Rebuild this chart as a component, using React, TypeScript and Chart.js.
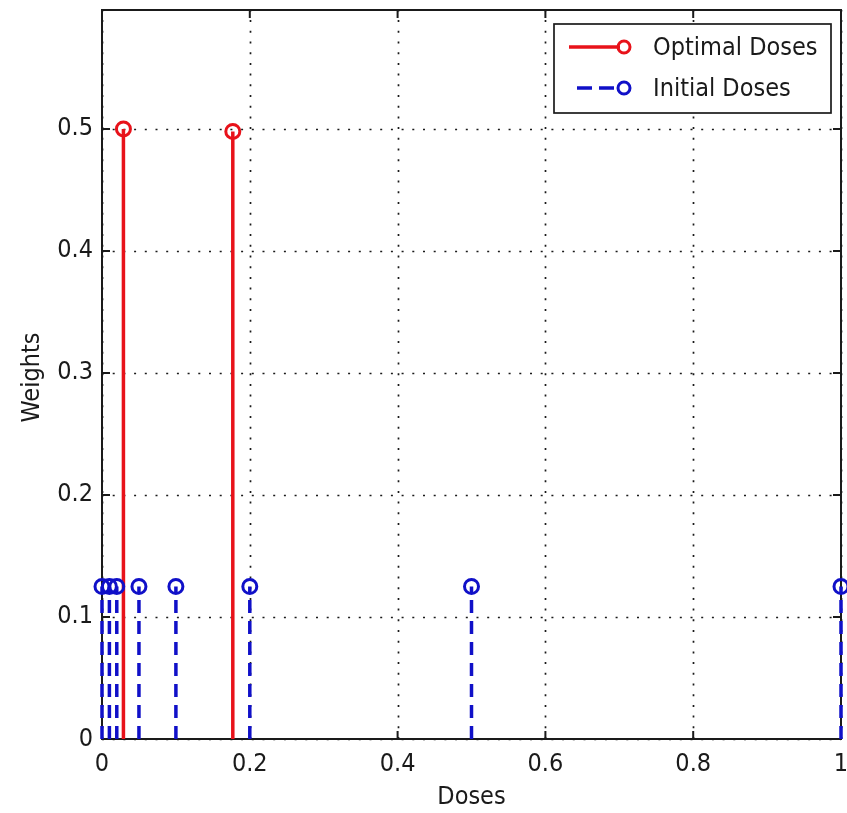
import React, { useEffect, useRef } from "react";
import { Chart, registerables } from "chart.js";

Chart.register(...registerables);

// Stem data: dose levels and their design weights
const optimalDoses = [0.029, 0.177];
const optimalWeights = [0.5, 0.498];
const initialDoses = [0, 0.01, 0.02, 0.05, 0.1, 0.2, 0.5, 1];
const initialWeights = [0.125, 0.125, 0.125, 0.125, 0.125, 0.125, 0.125, 0.125];

const xTicks = [0, 0.2, 0.4, 0.6, 0.8, 1];
const yTicks = [0, 0.1, 0.2, 0.3, 0.4, 0.5];

const seriesNames = ["Optimal Doses", "Initial Doses"];
const xTitle = "Doses";
const yTitle = "Weights";

const RED = "#e8121a";
const BLUE = "#1010c8";
const INK = "#1a1a1a";
const FAMILY = '"DejaVu Sans Condensed", "Liberation Sans", sans-serif';
const FONT_SIZE = 25;

// the canvas is a little wider than the visible frame so the last x label
// does not squeeze the plot area; the overflow is cut off by the wrapper
const VIEW_W = 847;
const VIEW_H = 813;
const CANVAS_W = 870;
const PLOT_RIGHT = 841;

// stems as line segments from 0 up to each weight, separated by gaps
function stemPoints(xs: number[], ys: number[]) {
  const pts: { x: number; y: number | null }[] = [];
  xs.forEach((x, i) => {
    pts.push({ x, y: 0 }, { x, y: ys[i] }, { x, y: null });
  });
  return pts;
}

function markerPoints(xs: number[], ys: number[]) {
  return xs.map((x, i) => ({ x, y: ys[i] }));
}

const framePlugin = {
  id: "matlabFrame",
  beforeDatasetsDraw(chart: any) {
    const { ctx, chartArea: a, scales } = chart;
    const xs = scales.x;
    const ys = scales.y;
    ctx.save();
    // dotted grid
    ctx.strokeStyle = INK;
    ctx.lineWidth = 1.7;
    ctx.setLineDash([2, 8.7]);
    xTicks.forEach((v) => {
      const px = Math.round(xs.getPixelForValue(v)) + 0.5;
      ctx.beginPath();
      ctx.moveTo(px, a.bottom);
      ctx.lineTo(px, a.top);
      ctx.stroke();
    });
    yTicks.forEach((v) => {
      const py = Math.round(ys.getPixelForValue(v)) + 0.5;
      ctx.beginPath();
      ctx.moveTo(a.left, py);
      ctx.lineTo(a.right, py);
      ctx.stroke();
    });
    ctx.setLineDash([]);
    // inward tick marks
    ctx.lineWidth = 2;
    const tl = 8;
    xTicks.forEach((v) => {
      const px = xs.getPixelForValue(v);
      ctx.beginPath();
      ctx.moveTo(px, a.bottom);
      ctx.lineTo(px, a.bottom - tl);
      ctx.moveTo(px, a.top);
      ctx.lineTo(px, a.top + tl);
      ctx.stroke();
    });
    yTicks.forEach((v) => {
      const py = ys.getPixelForValue(v);
      ctx.beginPath();
      ctx.moveTo(a.left, py);
      ctx.lineTo(a.left + tl, py);
      ctx.moveTo(a.right, py);
      ctx.lineTo(a.right - tl, py);
      ctx.stroke();
    });
    // axes box
    ctx.strokeRect(a.left, a.top, a.right - a.left, a.bottom - a.top);
    ctx.restore();
  },
  afterDraw(chart: any) {
    const { ctx, chartArea: a } = chart;
    ctx.save();
    ctx.fillStyle = INK;
    ctx.font = `${FONT_SIZE}px ${FAMILY}`;
    ctx.textAlign = "center";
    ctx.textBaseline = "middle";
    // axis titles
    ctx.fillText(xTitle, (a.left + a.right) / 2, 797);
    ctx.save();
    ctx.translate(32, (a.top + a.bottom) / 2 + 3);
    ctx.rotate(-Math.PI / 2);
    ctx.fillText(yTitle, 0, 0);
    ctx.restore();

    // legend
    const bx = 554, by = 24, bw = 277, bh = 89;
    ctx.fillStyle = "#ffffff";
    ctx.fillRect(bx, by, bw, bh);
    ctx.strokeStyle = INK;
    ctx.lineWidth = 1.7;
    ctx.strokeRect(bx, by, bw, bh);
    const rows = [
      { y: 47, color: RED, dash: [] as number[], x0: 569 },
      { y: 88, color: BLUE, dash: [15, 7], x0: 577 },
    ];
    rows.forEach((r, i) => {
      ctx.strokeStyle = r.color;
      ctx.lineWidth = 3.5;
      ctx.setLineDash(r.dash);
      ctx.beginPath();
      ctx.moveTo(r.x0, r.y);
      ctx.lineTo(620, r.y);
      ctx.stroke();
      ctx.setLineDash([]);
      ctx.lineWidth = 3;
      ctx.beginPath();
      ctx.arc(624, r.y, 6, 0, Math.PI * 2);
      ctx.stroke();
      ctx.fillStyle = INK;
      ctx.textAlign = "left";
      ctx.fillText(seriesNames[i], 653, r.y + 1);
    });
    ctx.restore();
  },
};

export default function App() {
  const canvasRef = useRef<HTMLCanvasElement | null>(null);

  useEffect(() => {
    if (!canvasRef.current) return;
    const chart = new Chart(canvasRef.current, {
      type: "line",
      data: {
        datasets: [
          {
            type: "scatter",
            label: seriesNames[1],
            data: markerPoints(initialDoses, initialWeights),
            pointStyle: "circle",
            pointRadius: 7,
            pointBorderWidth: 3,
            pointBorderColor: BLUE,
            pointBackgroundColor: "transparent",
            showLine: false,
            clip: false as any,
          },
          {
            type: "line",
            label: seriesNames[1] + " stems",
            data: stemPoints(initialDoses, initialWeights),
            borderColor: BLUE,
            borderWidth: 3.5,
            borderDash: [13, 8],
            borderCapStyle: "butt",
            pointRadius: 0,
            spanGaps: false,
            clip: false as any,
          },
          {
            type: "scatter",
            label: seriesNames[0],
            data: markerPoints(optimalDoses, optimalWeights),
            pointStyle: "circle",
            pointRadius: 7,
            pointBorderWidth: 3,
            pointBorderColor: RED,
            pointBackgroundColor: "transparent",
            showLine: false,
            clip: false as any,
          },
          {
            type: "line",
            label: seriesNames[0] + " stems",
            data: stemPoints(optimalDoses, optimalWeights),
            borderColor: RED,
            borderWidth: 3.5,
            pointRadius: 0,
            spanGaps: false,
            clip: false as any,
          },
        ],
      },
      options: {
        responsive: false,
        animation: false,
        devicePixelRatio: 1,
        layout: { padding: { left: 0, top: 9, right: CANVAS_W - PLOT_RIGHT, bottom: 0 } },
        plugins: {
          legend: { display: false },
          tooltip: { enabled: false },
          title: { display: false },
        },
        scales: {
          x: {
            type: "linear",
            min: 0,
            max: 1,
            grid: { display: false, drawTicks: false },
            border: { display: false },
            afterBuildTicks: (s: any) => {
              s.ticks = xTicks.map((v) => ({ value: v }));
            },
            afterFit: (s: any) => {
              s.height = 74;
              s.paddingLeft = 0;
              s.paddingRight = 0;
            },
            ticks: {
              autoSkip: false,
              maxRotation: 0,
              padding: 10,
              color: INK,
              font: { family: FAMILY, size: FONT_SIZE },
              callback: (v: any) => String(Number(Number(v).toFixed(1))),
            },
          },
          y: {
            type: "linear",
            min: 0,
            max: 0.5975,
            grid: { display: false, drawTicks: false },
            border: { display: false },
            afterBuildTicks: (s: any) => {
              s.ticks = yTicks.map((v) => ({ value: v }));
            },
            afterFit: (s: any) => {
              s.width = 102;
              s.paddingTop = 0;
              s.paddingBottom = 0;
            },
            ticks: {
              autoSkip: false,
              padding: 9,
              color: INK,
              font: { family: FAMILY, size: FONT_SIZE },
              callback: (v: any) => String(Number(Number(v).toFixed(1))),
            },
          },
        },
      },
      plugins: [framePlugin],
    });
    return () => chart.destroy();
  }, []);

  return (
    <div
      style={{
        position: "absolute",
        left: 0,
        top: 0,
        width: VIEW_W,
        height: VIEW_H,
        overflow: "hidden",
        background: "#fff",
      }}
    >
      <canvas ref={canvasRef} width={CANVAS_W} height={VIEW_H} style={{ display: "block" }} />
    </div>
  );
}
